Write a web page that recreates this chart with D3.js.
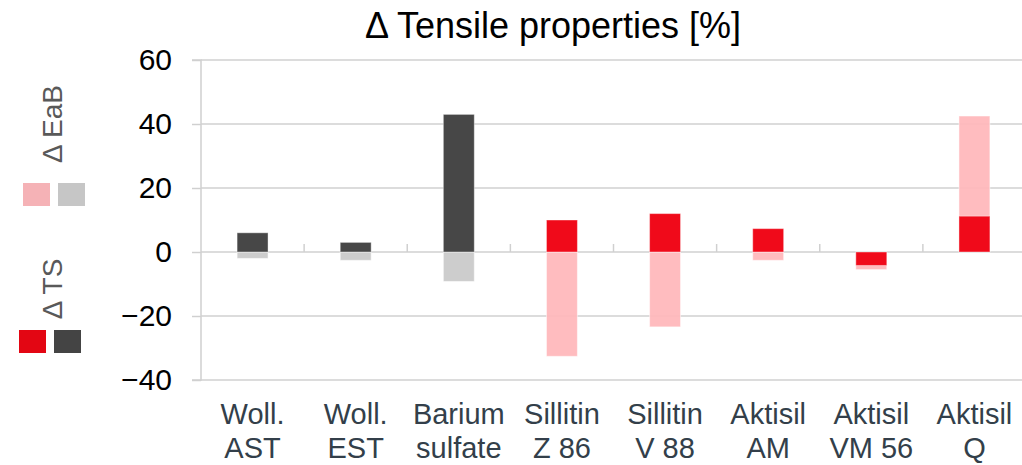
<!DOCTYPE html>
<html>
<head>
<meta charset="utf-8">
<script src="https://cdn.jsdelivr.net/npm/d3@7"></script>
<style>
  body { margin: 0; background: #fff; }
  svg { display: block; font-family: Arial, "Liberation Sans", sans-serif; }
</style>
</head>
<body>
<svg id="chart" width="1022" height="465"></svg>
<script>
// ---- data ----
const categories = [
  ["Woll.", "AST"],
  ["Woll.", "EST"],
  ["Barium", "sulfate"],
  ["Sillitin", "Z 86"],
  ["Sillitin", "V 88"],
  ["Aktisil", "AM"],
  ["Aktisil", "VM 56"],
  ["Aktisil", "Q"]
];
const tsValues  = [6.0, 3.0, 43.0, 10.0, 12.0, 7.3, -4.2, 11.2];
const eabValues = [-2.0, -2.6, -9.2, -32.6, -23.4, -2.6, -5.5, 42.5];
const colorGroup = ["dark", "dark", "dark", "red", "red", "red", "red", "red"];
const yTicks = [-40, -20, 0, 20, 40, 60];
const titleText = "Δ Tensile properties [%]";
const legendLabels = ["Δ EaB", "Δ TS"];

// ---- styles ----
const solid = { dark: "#474747", red: "#F00A1A" };
const light = { dark: "#C9C9C9", red: "#FFB6BA" };
const legendLight = { dark: "#C6C6C6", red: "#F5B2B6" };
const legendSolid = { dark: "#444444", red: "#E30613" };
const gridColor = "#D0D0D0";

const svg = d3.select("#chart");
const margin = { left: 201, top: 60, right: -4, bottom: 85 };
const W = 1022, H = 465;

const x = d3.scaleBand()
  .domain(d3.range(categories.length))
  .range([margin.left, W - margin.right])
  .paddingInner(0).paddingOuter(0);
const y = d3.scaleLinear().domain([-40, 60]).range([H - margin.bottom, margin.top]);

// gridlines
svg.append("g").selectAll("line").data(yTicks).join("line")
  .attr("x1", margin.left).attr("x2", W)
  .attr("y1", d => y(d)).attr("y2", d => y(d))
  .attr("stroke", gridColor).attr("stroke-width", 1.5);

// left axis line & ticks
const yAxis = d3.axisLeft(y).tickValues(yTicks).tickSize(9).tickPadding(20).tickFormat(d3.format("d"));
const gy = svg.append("g").attr("transform", `translate(${margin.left},0)`).call(yAxis);
gy.select(".domain").attr("stroke", gridColor).attr("stroke-width", 1.5)
  .attr("d", `M-9,${y(60)}H0V${y(-40)}H-9`);
gy.selectAll(".tick line").attr("stroke", gridColor).attr("stroke-width", 1.5);
gy.selectAll(".tick text")
  .attr("font-size", 30).attr("fill", "#000")
  .attr("font-family", "Arial, 'Liberation Sans', sans-serif");

// category separator ticks on the zero line
svg.append("g").selectAll("line").data(d3.range(1, categories.length)).join("line")
  .attr("x1", d => x(d)).attr("x2", d => x(d))
  .attr("y1", y(0)).attr("y2", y(0) - 8)
  .attr("stroke", gridColor).attr("stroke-width", 1.5);

const barW = x.bandwidth() * 0.3;
const barX = i => x(i) + (x.bandwidth() - barW) / 2;

// EaB bars (light, behind)
svg.append("g").selectAll("rect").data(eabValues).join("rect")
  .attr("x", (d, i) => barX(i))
  .attr("width", barW)
  .attr("y", d => y(Math.max(0, d)))
  .attr("height", d => Math.abs(y(d) - y(0)))
  .attr("fill", (d, i) => light[colorGroup[i]])
  .attr("fill-opacity", 0.92)
  .attr("stroke", "#fff").attr("stroke-opacity", 0.5).attr("stroke-width", 1);

// TS bars (solid, front)
svg.append("g").selectAll("rect").data(tsValues).join("rect")
  .attr("x", (d, i) => barX(i))
  .attr("width", barW)
  .attr("y", d => y(Math.max(0, d)))
  .attr("height", d => Math.abs(y(d) - y(0)))
  .attr("fill", (d, i) => solid[colorGroup[i]])
  .attr("stroke", "#fff").attr("stroke-opacity", 0.4).attr("stroke-width", 1);

// x labels
const xl = svg.append("g").selectAll("text").data(categories).join("text")
  .attr("x", (d, i) => x(i) + x.bandwidth() / 2)
  .attr("text-anchor", "middle")
  .attr("font-size", 29)
  .attr("fill", "#333F4A");
xl.append("tspan").attr("x", (d, i) => x(i) + x.bandwidth() / 2).attr("y", 424).text(d => d[0]);
xl.append("tspan").attr("x", (d, i) => x(i) + x.bandwidth() / 2).attr("y", 458).text(d => d[1]);

// title
svg.append("text").attr("x", 553).attr("y", 38)
  .attr("text-anchor", "middle").attr("font-size", 36).attr("fill", "#000")
  .text(titleText);

// legend
const legendRows = [
  { label: legendLabels[0], cy: 124, sq: [[23, legendLight.red], [58, legendLight.dark]], sqY: 183 },
  { label: legendLabels[1], cy: 289, sq: [[19, legendSolid.red], [54, legendSolid.dark]], sqY: 330 }
];
const lg = svg.append("g");
legendRows.forEach(r => {
  lg.append("text")
    .attr("transform", `translate(62,${r.cy}) rotate(-90)`)
    .attr("text-anchor", "middle")
    .attr("font-size", 28).attr("fill", "#595959")
    .text(r.label);
  r.sq.forEach(s => {
    lg.append("rect").attr("x", s[0]).attr("y", r.sqY).attr("width", 27).attr("height", 23).attr("fill", s[1]);
  });
});
</script>
</body>
</html>
